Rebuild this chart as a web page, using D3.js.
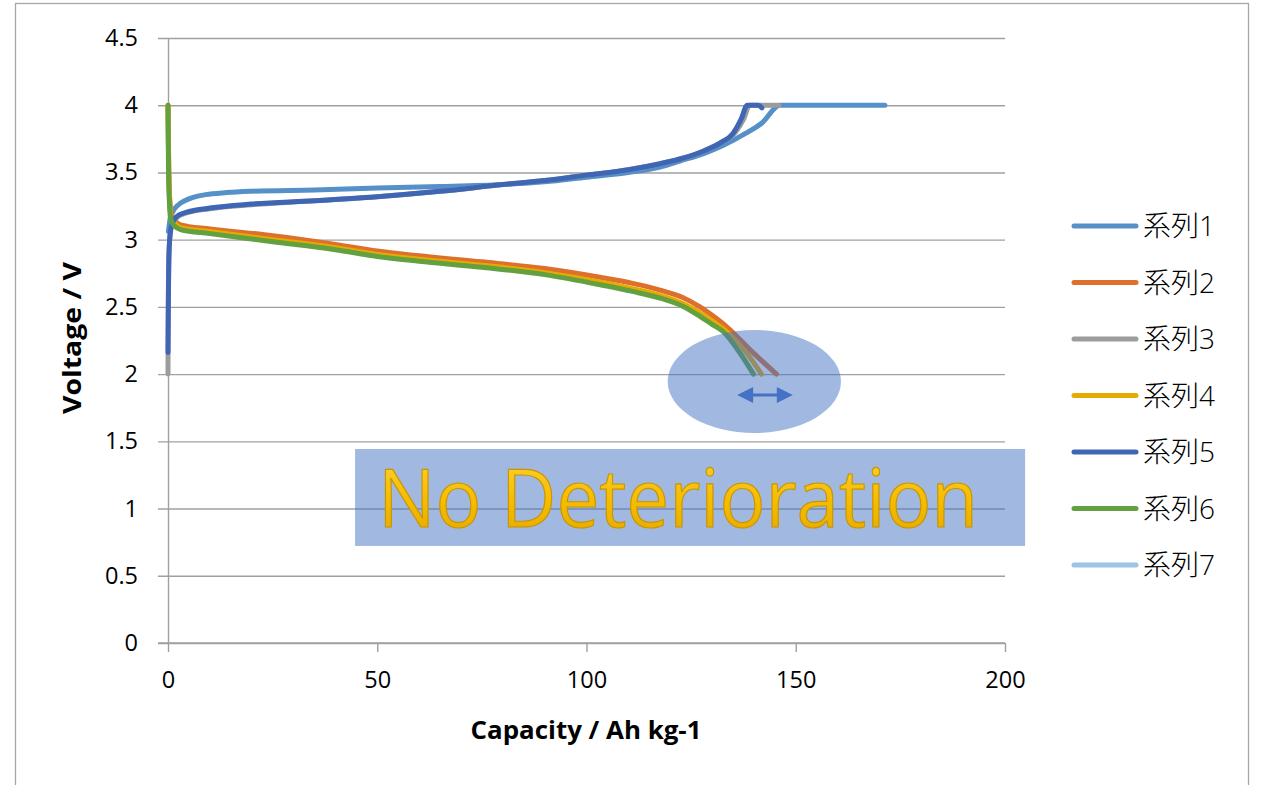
<!DOCTYPE html>
<html>
<head>
<meta charset="utf-8">
<script src="https://cdn.jsdelivr.net/npm/d3@7"></script>
<style>
  body { margin: 0; background: #fff; }
  text { font-family: "Open Sans", "Noto Sans CJK JP", sans-serif; }
</style>
</head>
<body>
<div id="chart"></div>
<script>
// Series data: [capacity, voltage]
const series1 = [[0.1,3.06],[0.5,3.15],[1.2,3.21],[2.5,3.26],[4,3.29],[6,3.315],[9,3.335],[14,3.35],[20,3.36],[35,3.37],[50,3.385],[65,3.395],[80,3.41],[90,3.43],[100,3.465],[110,3.5],[117.6,3.54],[122.3,3.585],[128,3.64],[132.6,3.7],[138,3.79],[142,3.87],[146.2,4.0],[160,4.0],[171.3,4.0]]
const series2 = [[0,4.0],[0.15,3.6],[0.4,3.3],[0.9,3.18],[2,3.13],[3,3.11],[10,3.08],[25,3.03],[40,2.965],[50,2.915],[60,2.88],[75,2.835],[90,2.785],[103.2,2.72],[111,2.675],[117.6,2.625],[123,2.57],[127.1,2.5],[131,2.415],[134.3,2.33],[139.1,2.18],[145.4,2.0]]
const series3 = [[0,2.0],[0.01,2.2],[0.1,2.6],[0.3,2.95],[0.8,3.09],[2,3.16],[4,3.195],[10,3.23],[20,3.26],[35,3.29],[50,3.32],[65,3.36],[80,3.41],[90,3.44],[100,3.48],[110,3.52],[117.6,3.565],[122.3,3.6],[128,3.66],[132,3.72],[135.6,3.8],[137.6,3.9],[139,4.0],[142,4.0],[146,4.0]]
const series4 = [[0,4.0],[0.15,3.6],[0.4,3.3],[0.85,3.16],[1.8,3.115],[3,3.09],[10,3.06],[25,3.0],[40,2.94],[50,2.89],[60,2.855],[75,2.81],[90,2.755],[103.2,2.685],[111,2.635],[117.6,2.585],[123,2.525],[127.1,2.455],[130.5,2.385],[133.5,2.315],[138.3,2.155],[141.8,2.0]]
const series5 = [[0,2.16],[0.1,2.6],[0.3,2.95],[0.8,3.1],[2,3.17],[4,3.2],[10,3.235],[20,3.265],[35,3.29],[50,3.32],[65,3.36],[80,3.41],[90,3.44],[100,3.48],[110,3.52],[117.6,3.565],[122.3,3.6],[128,3.66],[132,3.72],[135,3.79],[137,3.9],[138.4,4.0],[141,4.0],[141.9,3.98]]
const series6 = [[0,4.0],[0.1,3.6],[0.3,3.3],[0.7,3.15],[1.6,3.1],[3,3.075],[10,3.045],[25,2.985],[40,2.925],[50,2.875],[60,2.84],[75,2.795],[90,2.74],[103.2,2.665],[111,2.615],[117.6,2.565],[123,2.505],[127.1,2.43],[130,2.37],[132.7,2.315],[136.7,2.155],[139.9,2.0]]
const series7 = []

const seriesNames = ["系列1","系列2","系列3","系列4","系列5","系列6","系列7"]
const seriesData = [series1, series2, series3, series4, series5, series6, series7]
const colors = ["#5591c8","#dc702c","#9c9c9c","#e6ab00","#3f66b5","#63a03f","#9dc3e6"]

const xTicks = [0, 50, 100, 150, 200]
const yTicks = [0, 0.5, 1, 1.5, 2, 2.5, 3, 3.5, 4, 4.5]

// Annotation: ellipse center/radii, arrow ends, label box (data units)
const ellipse = { cx: 140.1, cy: 1.945, rx: 20.7, ry: 0.383 }
const arrow = { x0: 136, x1: 149.3, v: 1.845 }
const labelBox = { x0: 44.7, x1: 204.8, v0: 1.443, v1: 0.722 }
const labelText = "No Deterioration"

const W = 1261, H = 785

const svg = d3.select("#chart")
  .append("svg")
  .attr("width", W)
  .attr("height", H)

// Chart frame
svg.append("rect")
  .attr("x", 15.5).attr("y", 3.5)
  .attr("width", 1233).attr("height", 800)
  .attr("fill", "none").attr("stroke", "#a6a6a6").attr("stroke-width", 1.3)

// Scales
const x = d3.scaleLinear().domain([0, 200]).range([168, 1005])
const y = d3.scaleLinear().domain([0, 4.5]).range([643, 38])

// Gridlines (extend 10px left of axis as tick marks)
const grid = svg.append("g")
  .attr("transform", "translate(1005,0)")
  .call(d3.axisLeft(y).tickValues(yTicks).tickSize(847).tickFormat(""))
grid.select(".domain").remove()
grid.selectAll("line").attr("stroke", "#a0a0a0").attr("stroke-width", 1.4)

// Y axis line + labels
const gy = svg.append("g")
  .attr("transform", "translate(168,0)")
  .call(d3.axisLeft(y).tickValues(yTicks).tickSize(0).tickPadding(30).tickFormat(d => String(d)))
gy.select(".domain").attr("stroke", "#a0a0a0").attr("stroke-width", 1.4)
gy.selectAll("text").attr("font-size", 23.5).attr("font-family", "Open Sans").attr("fill", "#000")

// X axis
const gx = svg.append("g")
  .attr("transform", "translate(0,643)")
  .call(d3.axisBottom(x).tickValues(xTicks).tickSize(9).tickPadding(19).tickFormat(d => String(d)))
gx.select(".domain").attr("d", "M158,0H1005").attr("stroke", "#a0a0a0").attr("stroke-width", 1.4)
gx.selectAll("line").attr("stroke", "#a0a0a0").attr("stroke-width", 1.4)
gx.selectAll("text").attr("font-size", 23.5).attr("font-family", "Open Sans").attr("fill", "#000")

// Axis titles
svg.append("text")
  .attr("x", 586).attr("y", 739)
  .attr("text-anchor", "middle")
  .attr("font-size", 25).attr("font-weight", "bold")
  .attr("textLength", 231).attr("lengthAdjust", "spacingAndGlyphs")
  .text("Capacity / Ah kg-1")

svg.append("text")
  .attr("transform", "translate(81,338) rotate(-90)")
  .attr("text-anchor", "middle")
  .attr("font-size", 25).attr("font-weight", "bold")
  .attr("textLength", 152).attr("lengthAdjust", "spacingAndGlyphs")
  .text("Voltage / V")

// Lines
const line = d3.line()
  .x(d => x(d[0]))
  .y(d => y(d[1]))
  .curve(d3.curveMonotoneX)

svg.append("g")
  .selectAll("path")
  .data(seriesData)
  .join("path")
  .attr("d", d => d.length ? line(d) : null)
  .attr("fill", "none")
  .attr("stroke", (d, i) => colors[i])
  .attr("stroke-width", 5)
  .attr("stroke-linecap", "round")
  .attr("stroke-linejoin", "round")

// Legend
const legend = svg.append("g")
  .selectAll("g")
  .data(seriesNames)
  .join("g")
  .attr("transform", (d, i) => `translate(1074,${226 + i * 56.5})`)
legend.append("line")
  .attr("x1", 0).attr("x2", 62)
  .attr("stroke", (d, i) => colors[i])
  .attr("stroke-width", 5)
  .attr("stroke-linecap", "round")
legend.append("text")
  .attr("x", 69).attr("dy", "0.36em")
  .attr("font-size", 28)
  .attr("font-family", "'Noto Sans CJK JP', 'Open Sans'")
  .attr("font-weight", 300)
  .text(d => d)

// Highlight ellipse
svg.append("ellipse")
  .attr("cx", x(ellipse.cx)).attr("cy", y(ellipse.cy))
  .attr("rx", x(ellipse.rx) - x(0)).attr("ry", y(0) - y(ellipse.ry))
  .attr("fill", "#4472c4").attr("fill-opacity", 0.5)

// Double arrow
const ax0 = x(arrow.x0), ax1 = x(arrow.x1), ay = y(arrow.v)
svg.append("line")
  .attr("x1", ax0 + 10).attr("x2", ax1 - 10)
  .attr("y1", ay).attr("y2", ay)
  .attr("stroke", "#4472c4").attr("stroke-width", 3)
svg.append("path")
  .attr("d", `M${ax0},${ay}L${ax0 + 16},${ay - 8}L${ax0 + 16},${ay + 8}Z M${ax1},${ay}L${ax1 - 16},${ay - 8}L${ax1 - 16},${ay + 8}Z`)
  .attr("fill", "#4472c4")

// Label box
svg.append("rect")
  .attr("x", x(labelBox.x0)).attr("y", y(labelBox.v0))
  .attr("width", x(labelBox.x1) - x(labelBox.x0))
  .attr("height", y(labelBox.v1) - y(labelBox.v0))
  .attr("fill", "#4472c4").attr("fill-opacity", 0.5)

const defs = svg.append("defs")
const grad = defs.append("linearGradient")
  .attr("id", "gold").attr("x1", 0).attr("y1", 0).attr("x2", 0).attr("y2", 1)
grad.append("stop").attr("offset", "0%").attr("stop-color", "#ffd840")
grad.append("stop").attr("offset", "55%").attr("stop-color", "#f5bc00")
grad.append("stop").attr("offset", "100%").attr("stop-color", "#e0a400")

svg.append("text")
  .attr("x", 378).attr("y", 527)
  .attr("font-size", 80)
  .attr("font-family", "Lato, 'Open Sans'")
  .attr("font-weight", 400)
  .attr("textLength", 600)
  .attr("lengthAdjust", "spacingAndGlyphs")
  .style("fill", "url(#gold)")
  .attr("stroke", "#c99500").attr("stroke-width", 1.2)
  .text(labelText)
</script>
</body>
</html>
